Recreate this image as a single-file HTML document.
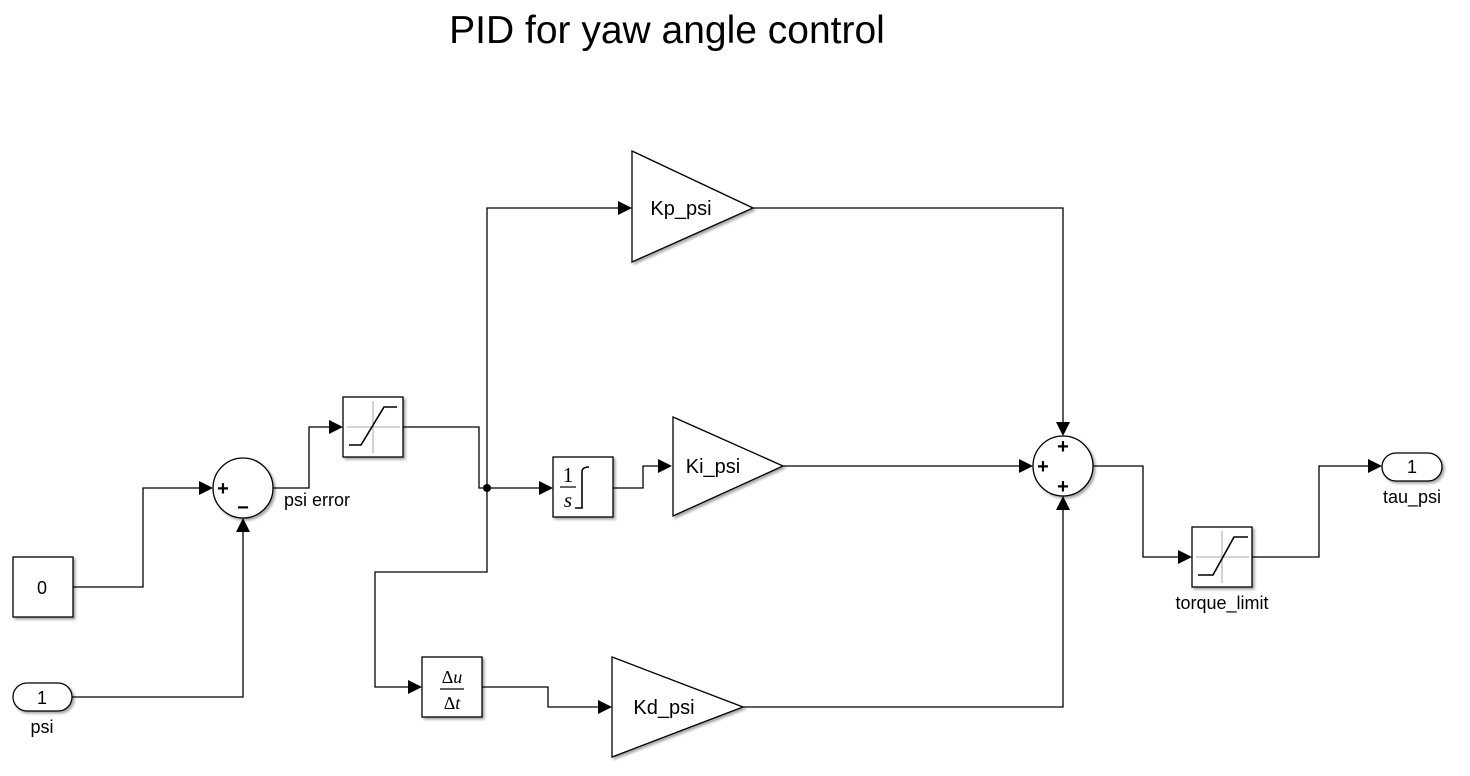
<!DOCTYPE html>
<html><head><meta charset="utf-8"><style>
html,body{margin:0;padding:0;background:#fff;width:1470px;height:776px;overflow:hidden}
svg{display:block}
text{font-family:"Liberation Sans",Arial,sans-serif;fill:#000}
</style></head><body>
<svg width="1470" height="776" viewBox="0 0 1470 776" xmlns="http://www.w3.org/2000/svg">
<defs>
<filter id="sh" x="-20%" y="-20%" width="150%" height="150%">
<feDropShadow dx="2" dy="2" stdDeviation="1.2" flood-color="#000" flood-opacity="0.35"/>
</filter>
</defs>
<text x="667" y="43" font-size="39" text-anchor="middle">PID for yaw angle control</text>

<g fill="none" stroke="#000" stroke-width="1.3">
<polyline points="73,587 143,587 143,488 202,488"/>
<polyline points="72,697 243,697 243,530"/>
<polyline points="273,488 309,488 309,427 332,427"/>
<polyline points="403,427 479,427 479,488 542,488"/>
<polyline points="621,208 487,208 487,572 375,572 375,687 411,687"/>
<polyline points="613,488 643,488 643,466 661,466"/>
<polyline points="482,687 548,687 548,707 601,707"/>
<polyline points="753,208 1063,208 1063,424"/>
<polyline points="783,466 1021,466"/>
<polyline points="743,707 1063,707 1063,508"/>
<polyline points="1093,466 1143,466 1143,557 1181,557"/>
<polyline points="1252,557 1319,557 1319,466 1371,466"/>
</g>
<g fill="#000">
<polygon points="213,488 199,481 199,495"/>
<polygon points="243,518 236,532 250,532"/>
<polygon points="343,427 329,420 329,434"/>
<polygon points="553,488 539,481 539,495"/>
<polygon points="632,208 618,201 618,215"/>
<polygon points="422,687 408,680 408,694"/>
<polygon points="672,466 658,459 658,473"/>
<polygon points="612,707 598,700 598,714"/>
<polygon points="1063,436 1056,422 1070,422"/>
<polygon points="1033,466 1019,459 1019,473"/>
<polygon points="1063,496 1056,510 1070,510"/>
<polygon points="1192,557 1178,550 1178,564"/>
<polygon points="1382,466 1368,459 1368,473"/>
<circle cx="487" cy="488" r="4"/>
</g>

<g fill="#fff" stroke="#000" stroke-width="1.3" filter="url(#sh)">
<rect x="13" y="557" width="60" height="60"/>
<rect x="13" y="683" width="59" height="28" rx="14"/>
<circle cx="243" cy="488" r="30"/>
<rect x="343" y="397" width="60" height="60"/>
<rect x="553" y="457" width="60" height="60"/>
<rect x="422" y="657" width="60" height="60"/>
<polygon points="632,151 753,208 632,262"/>
<polygon points="673,417 783,466 673,516"/>
<polygon points="612,657 743,707 612,757"/>
<circle cx="1063" cy="466" r="30"/>
<rect x="1192" y="527" width="60" height="60"/>
<rect x="1382" y="453" width="60" height="28" rx="14"/>
</g>

<g stroke="#aaa" stroke-width="1">
<line x1="347" y1="427" x2="400" y2="427"/><line x1="373" y1="401" x2="373" y2="453"/>
<line x1="1196" y1="557" x2="1249" y2="557"/><line x1="1222" y1="531" x2="1222" y2="583"/>
</g>
<g fill="none" stroke="#000" stroke-width="1.6">
<polyline points="349,445 361,445 384,407 397,407"/>
<polyline points="1198,575 1213,575 1234,537 1248,537"/>
<path d="M575,508 L582,508 L582,472 Q582,467 589,467"/>
</g>

<text x="42" y="594" font-size="18" text-anchor="middle">0</text>
<text x="42" y="704" font-size="18" text-anchor="middle">1</text>
<text x="42" y="733" font-size="18" text-anchor="middle">psi</text>
<text x="223" y="495" font-size="20" font-weight="bold" text-anchor="middle">+</text>
<text x="243" y="514" font-size="20" font-weight="bold" text-anchor="middle">−</text>
<text x="284" y="506" font-size="18">psi error</text>
<text x="568" y="482" font-size="21" text-anchor="middle" style="font-family:'Liberation Serif',serif">1</text>
<line x1="560" y1="487" x2="576" y2="487" stroke="#000" stroke-width="1.2"/>
<text x="568" y="507" font-size="21" text-anchor="middle" font-style="italic" style="font-family:'Liberation Serif',serif">s</text>
<text x="452" y="683" font-size="18" text-anchor="middle" style="font-family:'Liberation Serif',serif">Δ<tspan font-style="italic">u</tspan></text>
<line x1="440" y1="689" x2="464" y2="689" stroke="#000" stroke-width="1.2"/>
<text x="452" y="709" font-size="18" text-anchor="middle" style="font-family:'Liberation Serif',serif">Δ<tspan font-style="italic">t</tspan></text>
<text x="681" y="215" font-size="20" text-anchor="middle">Kp_psi</text>
<text x="713" y="473" font-size="20" text-anchor="middle">Ki_psi</text>
<text x="664" y="714" font-size="20" text-anchor="middle">Kd_psi</text>
<text x="1063" y="453" font-size="20" font-weight="bold" text-anchor="middle">+</text>
<text x="1043" y="473" font-size="20" font-weight="bold" text-anchor="middle">+</text>
<text x="1063" y="493" font-size="20" font-weight="bold" text-anchor="middle">+</text>
<text x="1222" y="609" font-size="18" text-anchor="middle">torque_limit</text>
<text x="1412" y="473" font-size="18" text-anchor="middle">1</text>
<text x="1412" y="503" font-size="18" text-anchor="middle">tau_psi</text>
</svg>
</body></html>
